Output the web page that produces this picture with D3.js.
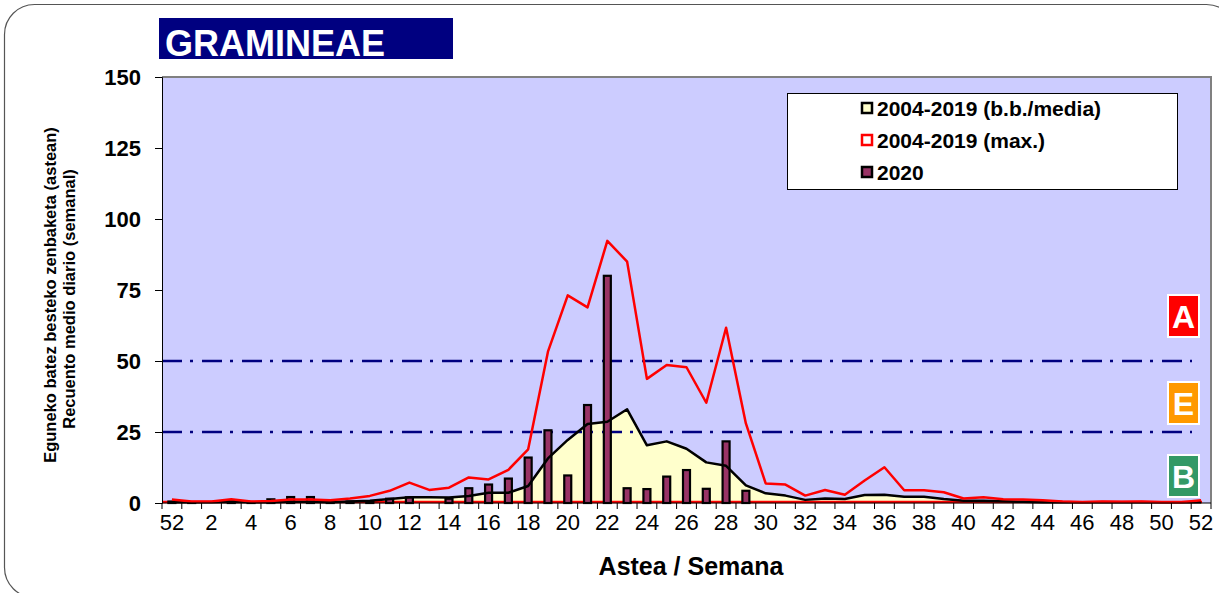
<!DOCTYPE html>
<html>
<head>
<meta charset="utf-8">
<script src="https://cdn.jsdelivr.net/npm/d3@7"></script>
<style>
  body { margin: 0; background: #fff; }
  svg { display: block; font-family: "Liberation Sans", Arial, sans-serif; }
</style>
</head>
<body>
<svg id="chart" width="1219" height="593"></svg>
<script>
// weeks: previous year's 52, then 1..52
var weeks = ["52"].concat(d3.range(1, 53).map(String));

// 2004-2019 max
var maxVals = [1.2, 0.5, 0.5, 1.3, 0.5, 0.7, 1.2, 1.2, 1.0, 1.6, 2.5, 4.3, 7.2, 4.6, 5.4, 9.0, 8.3, 11.7, 18.9, 53.3,
  73.1, 68.9, 92.3, 85.0, 43.7, 48.6, 47.8, 35.3, 61.7, 28.0, 6.9, 6.5, 2.6, 4.6, 2.9, 7.9, 12.6, 4.5, 4.5, 3.8,
  1.6, 2.0, 1.3, 1.2, 1.0, 0.5, 0.3, 0.5, 0.4, 0.5, 0.3, 0.3, 1.0];

// 2004-2019 mean
var meanVals = [0.3, 0.3, 0.3, 0.4, 0.3, 0.3, 0.4, 0.4, 0.3, 0.5, 0.8, 1.4, 2.0, 2.0, 1.9, 2.5, 3.6, 3.6, 6.0, 15.7,
  22.2, 27.8, 28.6, 33.0, 20.3, 21.7, 19.1, 14.3, 13.1, 6.2, 3.4, 2.6, 1.1, 1.6, 1.4, 2.8, 2.9, 2.2, 2.2, 1.4,
  0.8, 0.8, 0.6, 0.4, 0.3, 0.3, 0.3, 0.3, 0.3, 0.3, 0.3, 0.3, 0.3];

// 2020
var vals2020 = [0.5, 0.3, 0, 0.6, 0.3, 1.3, 2.1, 2.1, 0.5, 0.5, 0.5, 1.5, 2.0, 0, 1.5, 5.2, 6.5, 8.6, 16, 25.6,
  9.7, 34.5, 80, 5.2, 4.9, 9.3, 11.6, 5.0, 21.7, 4.3, 0, 0, 0, 0, 0, 0, 0, 0, 0, 0,
  0, 0, 0, 0, 0, 0, 0, 0, 0, 0, 0, 0, 0];

var yTicks = [0, 25, 50, 75, 100, 125, 150];
var thresholds = [25, 50];
var levels = [
  {label: "A", color: "#ff0000", y: 295},
  {label: "E", color: "#ff9900", y: 382},
  {label: "B", color: "#339966", y: 455}
];
var legendItems = [
  {label: "2004-2019 (b.b./media)", fill: "#ffffcc", stroke: "#000"},
  {label: "2004-2019 (max.)", fill: "#fff", stroke: "#ff0000"},
  {label: "2020", fill: "#993366", stroke: "#000"}
];

var svg = d3.select("#chart");
var pl = 162, pr = 1211, pt = 77, pb = 503;

var x = d3.scaleBand().domain(d3.range(weeks.length)).range([pl, pr]).padding(0);
var y = d3.scaleLinear().domain([0, 150]).range([pb, pt]);
var cx = function(i) { return x(i) + x.bandwidth() / 2; };

// outer frame
svg.append("rect")
  .attr("x", 4.5).attr("y", 4.5).attr("width", 1232).attr("height", 593)
  .attr("rx", 30).attr("ry", 30)
  .attr("fill", "none").attr("stroke", "#555").attr("stroke-width", 1.2);

// title
svg.append("rect").attr("x", 159).attr("y", 18).attr("width", 294).attr("height", 41).attr("fill", "#000080");
svg.append("text").attr("x", 165).attr("y", 56)
  .attr("fill", "#fff").attr("font-weight", "bold").attr("font-size", 36)
  .text("GRAMINEAE");

// plot background
svg.append("rect").attr("x", pl).attr("y", pt).attr("width", pr - pl).attr("height", pb - pt)
  .attr("fill", "#ccccff");
svg.append("path")
  .attr("d", "M" + pl + "," + pt + "H" + pr + "V" + pb)
  .attr("fill", "none").attr("stroke", "#808080").attr("stroke-width", 2);

// mean area
var area = d3.area().x(function(d, i) { return cx(i); }).y0(y(0)).y1(function(d) { return y(d); });
svg.append("path").datum(meanVals).attr("d", area).attr("fill", "#ffffcc");

// threshold lines
svg.selectAll(".thr").data(thresholds).enter().append("line")
  .attr("x1", pl).attr("x2", 1192)
  .attr("y1", function(d) { return y(d); }).attr("y2", function(d) { return y(d); })
  .attr("stroke", "#000080").attr("stroke-width", 2.5)
  .attr("stroke-dasharray", "20,8,3,9");

// red base line
svg.append("line").attr("x1", pl).attr("x2", 1202).attr("y1", pb - 1).attr("y2", pb - 1)
  .attr("stroke", "#ff0000").attr("stroke-width", 2.5);

// 2020 bars
var barData = vals2020.map(function(v, i) { return {i: i, v: v}; })
  .filter(function(d) { return d.v > 0; });
svg.selectAll(".bar").data(barData).enter().append("rect")
  .attr("x", function(d) { return cx(d.i) - 3.5; })
  .attr("width", 7)
  .attr("y", function(d) { return y(d.v); })
  .attr("height", function(d) { return y(0) - y(d.v); })
  .attr("fill", "#993366").attr("stroke", "#000").attr("stroke-width", 2.2);

// mean line
var line = d3.line().x(function(d, i) { return cx(i); }).y(function(d) { return y(d); });
svg.append("path").datum(meanVals).attr("d", line)
  .attr("fill", "none").attr("stroke", "#000").attr("stroke-width", 2.5).attr("stroke-linejoin", "round");

// max line
svg.append("path").datum(maxVals).attr("d", line)
  .attr("fill", "none").attr("stroke", "#ff0000").attr("stroke-width", 2.5).attr("stroke-linejoin", "round");

// y axis
var yAxis = d3.axisLeft(y).tickValues(yTicks).tickSize(7).tickPadding(14);
var gy = svg.append("g").attr("transform", "translate(" + pl + ",0)").call(yAxis);
gy.select(".domain").attr("stroke", "#000");
gy.selectAll("text").attr("font-size", 22).attr("font-weight", "bold")
  .attr("font-family", "Liberation Sans, Arial, sans-serif").attr("fill", "#000");

// x axis
var gx = svg.append("g").attr("transform", "translate(0," + pb + ")");
gx.append("line").attr("x1", pl).attr("x2", pr).attr("stroke", "#000");
gx.selectAll(".tk").data(d3.range(weeks.length + 1)).enter().append("line")
  .attr("x1", function(i) { return pl + i * x.bandwidth(); })
  .attr("x2", function(i) { return pl + i * x.bandwidth(); })
  .attr("y1", 0).attr("y2", 6).attr("stroke", "#000");
var lblData = weeks.map(function(w, i) { return {i: i, w: w}; })
  .filter(function(d) { return d.i % 2 === 0; });
gx.selectAll(".lbl").data(lblData).enter().append("text")
  .attr("x", function(d) { return cx(d.i); })
  .attr("y", 27).attr("text-anchor", "middle").attr("font-size", 22).attr("fill", "#000")
  .text(function(d) { return d.w; });

// axis titles
svg.append("text").attr("x", 691).attr("y", 575).attr("text-anchor", "middle")
  .attr("font-size", 25).attr("font-weight", "bold").text("Astea / Semana");
svg.append("text").attr("transform", "translate(56,295) rotate(-90)").attr("text-anchor", "middle")
  .attr("font-size", 16.5).attr("font-weight", "bold").text("Eguneko batez besteko zenbaketa (astean)");
svg.append("text").attr("transform", "translate(75,299) rotate(-90)").attr("text-anchor", "middle")
  .attr("font-size", 16.5).attr("font-weight", "bold").text("Recuento medio diario (semanal)");

// level boxes
var lv = svg.selectAll(".lv").data(levels).enter().append("g");
lv.append("rect").attr("x", 1168).attr("y", function(d) { return d.y; })
  .attr("width", 31).attr("height", 42)
  .attr("fill", function(d) { return d.color; }).attr("stroke", "#fff").attr("stroke-width", 2);
lv.append("text").attr("x", 1183.5).attr("y", function(d) { return d.y + 33; })
  .attr("text-anchor", "middle").attr("fill", "#fff").attr("font-weight", "bold").attr("font-size", 32)
  .text(function(d) { return d.label; });

// legend
var lg = svg.append("g");
lg.append("rect").attr("x", 787.5).attr("y", 93.5).attr("width", 390).attr("height", 96)
  .attr("fill", "#fff").attr("stroke", "#000").attr("stroke-width", 1);
var li = lg.selectAll(".li").data(legendItems).enter().append("g")
  .attr("transform", function(d, i) { return "translate(0," + (i * 32) + ")"; });
li.append("rect").attr("x", 862).attr("y", 103).attr("width", 10).attr("height", 10)
  .attr("fill", function(d) { return d.fill; }).attr("stroke", function(d) { return d.stroke; })
  .attr("stroke-width", 2.5);
li.append("text").attr("x", 877).attr("y", 116).attr("font-size", 21).attr("font-weight", "bold")
  .text(function(d) { return d.label; });
</script>
</body>
</html>
